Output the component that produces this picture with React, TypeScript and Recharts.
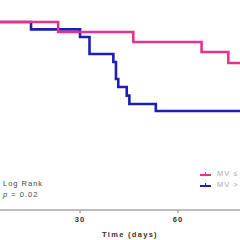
import * as React from 'react';
import { LineChart, Line, XAxis, YAxis, Label } from 'recharts';

// survival curves (days, % surviving)
const lowDays = [5.5, 23.3, 46.3, 67.2, 75.4, 80];
const lowSurv = [94, 89, 84, 79, 73.5, 73.5];

const highDays = [5.5, 15.0, 30.0, 32.9, 40.2, 41.0, 41.7, 44.3, 45.1, 53.2, 80];
const highSurv = [94, 90.3, 86.5, 78, 74, 65.5, 61.5, 57.2, 53, 49.5, 49.5];

const xTicks = [30, 60];
const seriesNames = ['MV \u2264', 'MV >'];
const pValue = '0.02';

const lowData = lowDays.map((d, i) => ({ day: d, surv: lowSurv[i] }));
const highData = highDays.map((d, i) => ({ day: d, surv: highSurv[i] }));

const PINK = '#e4338c';
const BLUE = '#1e1eb4';

const smallText: React.CSSProperties = {
  position: 'absolute',
  fontFamily: 'Arial, "Liberation Sans", sans-serif',
  fontSize: 7.5,
  letterSpacing: 1,
  whiteSpace: 'nowrap',
  lineHeight: '11px',
};

const App = () => {
  return (
    <div style={{ position: 'absolute', left: 0, top: 0, width: 240, height: 240, overflow: 'hidden', background: '#fff' }}>
      <LineChart width={240} height={240} margin={{ top: 10, right: 0, left: 0, bottom: 0 }}>
        <XAxis
          dataKey="day"
          type="number"
          domain={[5.5, 5.5 + (240 * 30) / 98]}
          allowDataOverflow
          ticks={xTicks}
          height={30}
          stroke="#a8a8a8"
          strokeWidth={1.5}
          tickSize={3}
          dy={2}
          tick={{ fontSize: 7.5, fill: '#333', fontWeight: 'bold', fontFamily: 'Arial, sans-serif', letterSpacing: 1 }}
        >
          <Label
            value="Time (days)"
            position="insideBottom"
            offset={3}
            dx={10}
            style={{ fontSize: 7.5, fill: '#333', fontWeight: 'bold', fontFamily: 'Arial, sans-serif', letterSpacing: 1.3 }}
          />
        </XAxis>
        <YAxis hide domain={[0, 100]} type="number" width={0} />
        <Line
          data={highData}
          dataKey="surv"
          type="stepAfter"
          stroke={BLUE}
          strokeWidth={2.6}
          dot={false}
          isAnimationActive={false}
        />
        <Line
          data={lowData}
          dataKey="surv"
          type="stepAfter"
          stroke={PINK}
          strokeWidth={2.6}
          dot={false}
          isAnimationActive={false}
        />
      </LineChart>
      <div style={{ ...smallText, left: 3, top: 178, color: '#444' }}>
        Log Rank
        <br />
        <i>p</i> = {pValue}
      </div>
      {seriesNames.map((name, i) => (
        <div key={name} style={{ ...smallText, left: 200, top: 168 + i * 11, color: '#aaa' }}>
          <svg width={12} height={6} style={{ verticalAlign: 'middle', marginRight: 5 }}>
            <line x1={0} y1={4} x2={11} y2={4} stroke={i === 0 ? PINK : BLUE} strokeWidth={2} />
            <line x1={5.5} y1={1} x2={5.5} y2={4} stroke={i === 0 ? PINK : BLUE} strokeWidth={1} />
          </svg>
          {name}
        </div>
      ))}
    </div>
  );
};

export default App;
